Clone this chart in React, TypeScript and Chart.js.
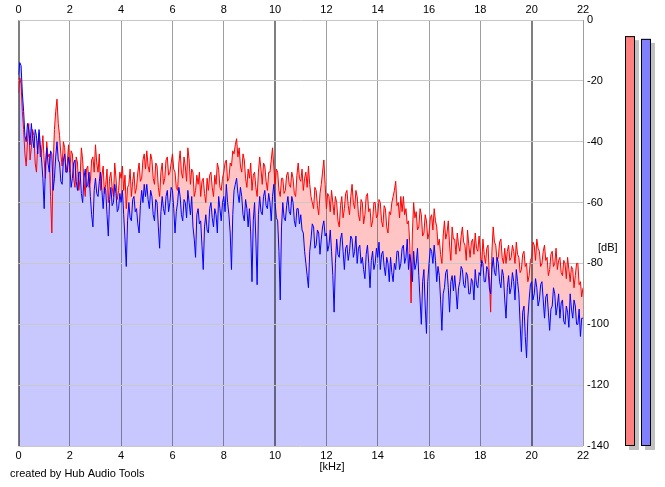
import React, { useEffect, useRef } from "react";
import { Chart, registerables } from "chart.js";

Chart.register(...registerables);

// Frequency bin spacing of the spectrum (kHz)
const binStepKHz = 0.05;

// Left channel (red) spectrum, dB, one value per 0.05 kHz from 0 to 22 kHz
const leftDb: number[] = [
  -24, -19, -21, -30, -36, -44, -48, -40, -34, -46, -42, -36, -38, -47, -50, -41, -37, -45, -43, -38,
  -46, -52, -40, -45, -44, -58, -70, -48, -36, -30, -26, -34, -38, -44, -48, -40, -42, -50, -47, -41,
  -50, -43, -44, -52, -55, -45, -47, -56, -52, -42, -46, -53, -58, -49, -48, -55, -53, -46, -45, -50,
  -41, -47, -50, -44, -56, -51, -48, -57, -54, -49, -60, -52, -50, -55, -58, -47, -52, -59, -56, -50,
  -52, -48, -56, -51, -62, -55, -54, -49, -58, -53, -50, -57, -55, -50, -47, -53, -52, -46, -44, -49,
  -43, -48, -50, -44, -46, -52, -54, -47, -48, -55, -58, -50, -47, -54, -52, -46, -45, -51, -50, -47,
  -44, -49, -50, -55, -56, -47, -43, -50, -52, -45, -48, -53, -42, -46, -54, -49, -50, -58, -56, -51,
  -54, -50, -58, -53, -52, -57, -60, -52, -56, -51, -50, -55, -58, -51, -54, -47, -49, -55, -56, -52,
  -50, -47, -46, -53, -52, -47, -48, -43, -44, -41, -39, -45, -42, -48, -50, -44, -46, -52, -55, -49,
  -52, -47, -56, -51, -50, -55, -58, -50, -45, -49, -54, -47, -48, -53, -56, -50, -50, -46, -42, -48,
  -54, -49, -50, -56, -58, -52, -52, -57, -56, -51, -50, -54, -55, -50, -52, -57, -58, -51, -47, -52,
  -53, -49, -56, -52, -50, -55, -48, -54, -58, -60, -62, -55, -56, -61, -64, -57, -54, -50, -46, -54,
  -62, -57, -58, -63, -56, -60, -64, -58, -60, -66, -68, -61, -58, -65, -62, -57, -56, -61, -64, -58,
  -54, -60, -62, -56, -58, -64, -66, -59, -60, -67, -64, -58, -57, -63, -62, -68, -66, -60, -60, -65,
  -64, -59, -60, -66, -68, -61, -62, -68, -70, -63, -64, -60, -58, -56, -53, -61, -60, -65, -58, -63,
  -58, -64, -62, -67, -66, -74, -93, -70, -60, -65, -63, -69, -68, -62, -64, -71, -70, -64, -66, -72,
  -70, -65, -64, -69, -62, -66, -68, -74, -72, -77, -80, -71, -66, -72, -70, -66, -74, -79, -68, -72,
  -72, -77, -70, -74, -76, -71, -68, -73, -74, -79, -69, -74, -78, -73, -72, -77, -70, -75, -76, -71,
  -76, -81, -72, -77, -80, -75, -74, -84, -96, -76, -68, -73, -74, -79, -78, -73, -72, -78, -80, -75,
  -80, -76, -74, -79, -78, -74, -76, -80, -73, -77, -78, -83, -82, -77, -76, -81, -80, -86, -84, -79,
  -78, -73, -74, -79, -72, -75, -76, -81, -80, -76, -74, -79, -78, -84, -82, -77, -76, -81, -80, -75,
  -82, -79, -78, -83, -84, -79, -80, -85, -78, -82, -86, -81, -82, -88, -84, -80, -80, -87, -86, -91, -88,
];

// Right channel (blue) spectrum, dB
const rightDb: number[] = [
  -18, -14, -15, -24, -30, -38, -40, -34, -36, -41, -34, -39, -42, -36, -38, -44, -36, -41, -46, -52,
  -62, -48, -42, -47, -50, -43, -44, -56, -52, -45, -40, -46, -47, -53, -54, -46, -44, -50, -50, -45,
  -48, -55, -52, -47, -46, -53, -56, -50, -50, -57, -60, -52, -49, -55, -54, -50, -58, -64, -68, -56,
  -52, -57, -58, -53, -50, -56, -62, -55, -56, -64, -71, -59, -55, -61, -60, -54, -57, -63, -62, -57,
  -60, -56, -64, -72, -81, -66, -60, -65, -66, -59, -58, -63, -62, -67, -70, -61, -56, -60, -54, -58,
  -54, -59, -62, -56, -58, -64, -66, -59, -60, -68, -75, -63, -58, -62, -64, -58, -56, -63, -60, -55,
  -56, -62, -70, -63, -60, -55, -58, -64, -66, -59, -60, -65, -56, -60, -64, -58, -68, -72, -78, -64,
  -62, -67, -66, -74, -82, -68, -64, -69, -70, -62, -60, -65, -68, -62, -64, -70, -58, -62, -66, -60,
  -58, -63, -54, -60, -64, -70, -82, -64, -56, -54, -52, -57, -60, -55, -58, -64, -66, -59, -62, -68,
  -62, -70, -86, -66, -60, -72, -87, -64, -58, -63, -64, -58, -56, -61, -62, -57, -60, -66, -58, -54,
  -60, -65, -66, -76, -92, -68, -60, -65, -66, -61, -58, -63, -64, -58, -60, -66, -68, -62, -62, -67,
  -64, -69, -70, -76, -80, -84, -88, -76, -72, -67, -68, -75, -74, -69, -70, -77, -72, -68, -66, -71,
  -70, -76, -74, -69, -76, -84, -96, -80, -72, -77, -78, -72, -70, -76, -82, -75, -74, -79, -76, -71,
  -72, -78, -76, -71, -80, -75, -74, -80, -78, -82, -85, -77, -74, -80, -88, -79, -76, -82, -80, -75,
  -78, -73, -82, -77, -76, -81, -84, -78, -80, -86, -78, -83, -86, -80, -82, -76, -76, -82, -80, -75,
  -74, -80, -78, -72, -82, -77, -80, -86, -76, -82, -80, -75, -84, -92, -100, -86, -82, -94, -103, -86,
  -80, -75, -76, -80, -74, -79, -86, -81, -84, -92, -102, -90, -88, -83, -82, -88, -96, -86, -84, -89,
  -84, -89, -95, -88, -86, -81, -82, -87, -88, -83, -84, -90, -90, -85, -86, -92, -82, -87, -88, -83,
  -84, -79, -80, -86, -86, -81, -82, -88, -90, -82, -78, -83, -84, -78, -80, -86, -88, -82, -84, -92,
  -98, -88, -84, -90, -88, -83, -86, -92, -82, -86, -90, -100, -109, -96, -94, -104, -111, -98, -92, -87,
  -86, -92, -90, -85, -88, -94, -92, -87, -86, -92, -98, -91, -90, -96, -102, -95, -94, -88, -90, -97,
  -94, -90, -98, -93, -92, -99, -100, -94, -96, -101, -90, -95, -98, -92, -94, -100, -100, -95, -104, -98, -98,
];

// Level meters (left, right), dB
const meterLevels: number[] = [-5.3, -6.2];
const meterColors: string[] = ["#FF8080", "#8080FF"];

// Axis ranges / ticks
const freqMin = 0;
const freqMax = 22;
const freqStep = 2;
const dbMin = -140;
const dbMax = 0;
const dbStep = 20;

const FONT = '"Liberation Sans", Arial, sans-serif';

const overlayPlugin = {
  id: "overlay",
  afterDraw(chart: any) {
    const { ctx } = chart;
    const y = chart.scales.y;
    ctx.save();
    ctx.font = `11px ${FONT}`;
    ctx.fillStyle = "#000";
    ctx.textBaseline = "middle";
    ctx.textAlign = "left";
    ctx.fillText("[dB]", 598, y.getPixelForValue(-75));
    ctx.textAlign = "center";
    ctx.fillText("[kHz]", 332, 467);
    ctx.textAlign = "left";
    ctx.fillText("created by Hub Audio Tools", 10, 474);

    const bottom = y.getPixelForValue(dbMin);
    meterLevels.forEach((lv, i) => {
      const x = 625 + i * 16;
      const top = y.getPixelForValue(lv);
      ctx.fillStyle = "#C0C0C0";
      ctx.fillRect(x + 4, top + 4, 10, bottom - top);
      ctx.fillStyle = meterColors[i];
      ctx.fillRect(x, top, 10, bottom - top);
      ctx.strokeStyle = "#000";
      ctx.lineWidth = 1;
      ctx.strokeRect(x + 0.5, top + 0.5, 9, bottom - top - 1);
    });
    ctx.restore();
  },
};

export default function App() {
  const canvasRef = useRef<HTMLCanvasElement | null>(null);

  useEffect(() => {
    if (!canvasRef.current) return;
    const leftPts = leftDb.map((v, i) => ({ x: i * binStepKHz, y: v }));
    const rightPts = rightDb.map((v, i) => ({ x: i * binStepKHz, y: v }));
    const tickFont = { family: FONT, size: 11 };

    const chart = new Chart(canvasRef.current, {
      type: "line",
      data: {
        datasets: [
          {
            label: "Right",
            data: rightPts,
            borderColor: "#0000FF",
            borderWidth: 1,
            backgroundColor: "#C8C8FF",
            fill: "start",
            pointRadius: 0,
            tension: 0,
          },
          {
            label: "Left",
            data: leftPts,
            borderColor: "#FF0000",
            borderWidth: 1,
            backgroundColor: "#FFC4C4",
            fill: "start",
            pointRadius: 0,
            tension: 0,
          },
        ],
      },
      options: {
        animation: false,
        responsive: false,
        events: [],
        layout: { padding: { left: 18.5, top: 0, right: 0, bottom: 0 } },
        plugins: {
          legend: { display: false },
          tooltip: { enabled: false },
          filler: { drawTime: "beforeDraw" } as any,
        },
        scales: {
          x: {
            type: "linear",
            position: "bottom",
            min: freqMin,
            max: freqMax,
            ticks: { stepSize: freqStep, font: tickFont, color: "#000", padding: 3, maxRotation: 0 },
            grid: {
              drawTicks: false,
              color: (c: any) =>
                c.tick && c.tick.value % 10 === 0 ? "rgba(0,0,0,0.5)" : "rgba(0,0,0,0.38)",
              lineWidth: (c: any) => (c.tick && c.tick.value % 10 === 0 ? 2 : 1),
            },
            border: { display: false },
            afterFit: (s: any) => {
              s.height = 41;
            },
          },
          x2: {
            type: "linear",
            position: "top",
            min: freqMin,
            max: freqMax,
            ticks: { stepSize: freqStep, font: tickFont, color: "#000", padding: 3, maxRotation: 0 },
            grid: { display: false, drawTicks: false },
            border: { display: false },
            afterFit: (s: any) => {
              s.height = 20;
            },
          },
          y: {
            type: "linear",
            position: "right",
            min: dbMin,
            max: dbMax,
            ticks: { stepSize: dbStep, font: tickFont, color: "#000", padding: 4 },
            grid: { drawTicks: false, color: "#C8C8C8", lineWidth: 1 },
            border: { display: false },
            afterFit: (s: any) => {
              s.width = 82;
            },
          },
        },
      } as any,
      plugins: [overlayPlugin],
    });
    return () => chart.destroy();
  }, []);

  return (
    <div style={{ position: "fixed", left: 0, top: 0, width: 665, height: 487, background: "#fff" }}>
      <canvas ref={canvasRef} width={665} height={487} style={{ width: 665, height: 487, display: "block" }} />
    </div>
  );
}
